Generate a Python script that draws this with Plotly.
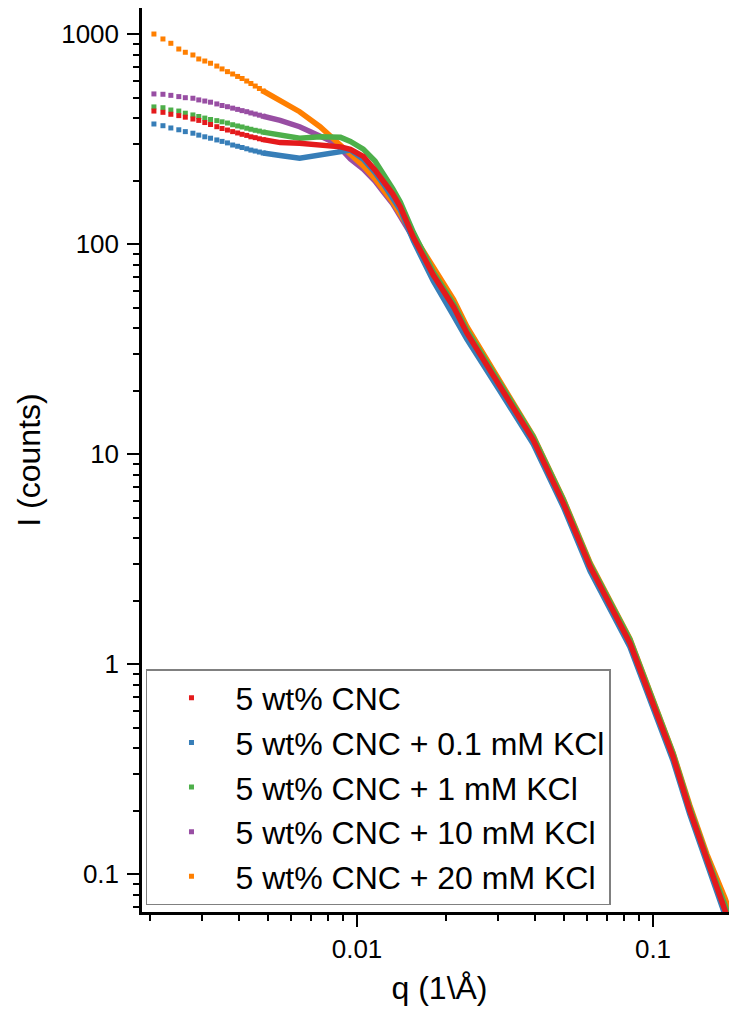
import plotly.graph_objects as go

# ---------------- data ----------------
series_names = [
    "5 wt% CNC",
    "5 wt% CNC + 0.1 mM KCl",
    "5 wt% CNC + 1 mM KCl",
    "5 wt% CNC + 10 mM KCl",
    "5 wt% CNC + 20 mM KCl",
]
series_colors = ["#E41A1C", "#377EB8", "#4DAF4A", "#984EA3", "#FF7F00"]

# low-q region: individual (separated) data points
q_dots = [0.00206, 0.00221, 0.00235, 0.00250, 0.00263, 0.00279, 0.00292, 0.00306,
          0.00320, 0.00336, 0.00350, 0.00365, 0.00380, 0.00395, 0.00409, 0.00424,
          0.00438, 0.00453, 0.00468, 0.00482]

I_dots_red = [431, 425, 416, 410, 403, 395, 389, 380, 372, 363, 356, 350, 344, 339,
              334, 330, 325, 322, 318, 315]
I_dots_blue = [374, 367, 358, 351, 344, 338, 331, 325, 320, 314, 309, 304, 297, 293,
               289, 285, 281, 278, 275, 272]
I_dots_green = [451, 447, 436, 431, 421, 413, 406, 399, 393, 388, 383, 378, 371, 366,
                362, 357, 353, 349, 346, 342]
I_dots_purple = [520, 518, 512, 505, 499, 496, 487, 481, 475, 466, 458, 452, 445, 439,
                 433, 428, 422, 417, 412, 407]
I_dots_orange = [1003, 950, 906, 851, 821, 797, 763, 746, 728, 706, 684, 664, 647, 630,
                 616, 599, 583, 567, 552, 537]

# higher-q region: points merge into a continuous band
q_line = [0.0050, 0.0055, 0.0064, 0.0075, 0.0083, 0.0088, 0.0095, 0.0105, 0.0115,
          0.0123, 0.0132, 0.0140, 0.0155, 0.0181, 0.0212, 0.0235, 0.0304, 0.0394,
          0.0498, 0.0613, 0.0836, 0.0977, 0.117, 0.133, 0.152, 0.175, 0.19]

I_line_red = [312, 305, 303, 299, 295, 291, 283, 262, 226, 200, 174, 151, 108, 71.4,
              50.3, 37.8, 21.0, 11.7, 5.84, 2.92, 1.26, 0.714, 0.362, 0.202, 0.117,
              0.0687, 0.0486]
I_line_blue = [271, 265, 257, 266, 274, 279, 281, 254, 220, 193, 168, 146, 104, 66.9,
               45.6, 35.4, 20.0, 11.2, 5.61, 2.78, 1.21, 0.684, 0.346, 0.194, 0.112,
               0.0654, 0.0461]
I_line_green = [339, 333, 320, 325, 324, 323, 309, 284, 249, 216, 184, 159, 114, 73.8,
                52.0, 39.1, 21.6, 12.1, 6.06, 3.00, 1.31, 0.738, 0.374, 0.209, 0.121,
                0.0714, 0.0503]
I_line_purple = [402, 389, 363, 331, 307, 286, 255, 228, 200, 177, 156, 136, 107, 73.8,
                 51.4, 38.6, 21.4, 12.0, 5.99, 2.97, 1.28, 0.722, 0.366, 0.205, 0.118,
                 0.0699, 0.0492]
I_line_orange = [522, 484, 428, 363, 319, 297, 269, 236, 205, 181, 159, 139, 111, 77.4,
                 54.5, 40.6, 22.2, 12.2, 6.12, 3.04, 1.32, 0.746, 0.378, 0.214, 0.125,
                 0.0771, 0.0555]

x_tick_vals = [0.01, 0.1]
x_tick_text = ["0.01", "0.1"]
y_tick_vals = [0.1, 1, 10, 100, 1000]
y_tick_text = ["0.1", "1", "10", "100", "1000"]

x_title = "q (1\\Å)"
y_title = "I (counts)"

dots = [I_dots_red, I_dots_blue, I_dots_green, I_dots_purple, I_dots_orange]
lines = [I_line_red, I_line_blue, I_line_green, I_line_purple, I_line_orange]

# ---------------- figure ----------------
FONT = "Liberation Sans, Arial, sans-serif"
fig = go.Figure()

draw_order = [3, 4, 1, 2, 0]  # purple, orange, blue, green, red (red on top)
for i in draw_order:
    name = series_names[i]
    col = series_colors[i]
    fig.add_trace(go.Scatter(
        x=q_dots, y=dots[i], mode="markers", name=name,
        legendgroup=name, legendrank=i + 1,
        marker=dict(symbol="square", size=5, color=col, line=dict(width=0)),
    ))
    fig.add_trace(go.Scatter(
        x=q_dots[-1:] + q_line, y=dots[i][-1:] + lines[i], mode="lines",
        name=name, legendgroup=name, showlegend=False,
        line=dict(color=col, width=5.5),
    ))

minor_vals = [m * 10.0 ** e for e in range(-4, 4) for m in range(2, 10)]

axis_common = dict(
    type="log", showline=True, linecolor="black", linewidth=2.5,
    ticks="outside", ticklen=12, tickwidth=2, tickcolor="black",
    showgrid=False, zeroline=False, mirror=False, automargin=False,
    tickfont=dict(family=FONT, size=26, color="black"),
    title_font=dict(family=FONT, size=32, color="black"),
    minor=dict(ticks="outside", ticklen=6, tickwidth=2, tickcolor="black",
               tickmode="array", tickvals=minor_vals, showgrid=False),
)

fig.update_xaxes(
    **axis_common, range=[-2.7264, -0.7162],
    tickmode="array", tickvals=x_tick_vals, ticktext=x_tick_text,
    title_text=x_title, title_standoff=14,
)
fig.update_yaxes(
    **axis_common, range=[-1.1795, 3.1252],
    tickmode="array", tickvals=y_tick_vals, ticktext=y_tick_text,
    title_text=y_title, title_standoff=12, ticklabelstandoff=3,
)

# page has an 8 px body margin: figure sized so the plot lands where the reference has it
fig.update_layout(
    width=729, height=1012,
    margin=dict(l=134, r=0, t=0, b=108),
    paper_bgcolor="white", plot_bgcolor="white",
    font=dict(family=FONT, color="black"),
    legend=dict(
        x=0.0067, y=0.0077, xanchor="left", yanchor="bottom",
        bgcolor="white", bordercolor="#808080", borderwidth=1.5,
        font=dict(family=FONT, size=32, color="black"),
        itemwidth=78, tracegroupgap=0,
    ),
    showlegend=True,
)

fig.write_html("out.html")
